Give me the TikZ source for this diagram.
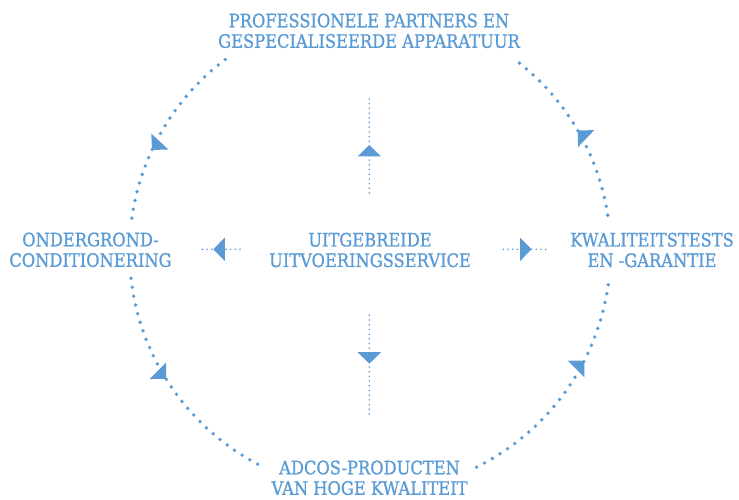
\documentclass[tikz,border=0pt]{standalone}
\usepackage{fontspec}
\setmainfont{DejaVu Serif}[FakeStretch=0.88, FakeBold=1]
\usetikzlibrary{calc,decorations.markings}
\definecolor{adblue}{RGB}{91,155,213}
\tikzset{
	labeltext/.style={text=adblue, align=center, inner sep=0pt, font=\fontsize{18.5}{20.5}\selectfont},
	ring/.style={adblue, line width=3.8pt, line cap=round, dash pattern=on 0pt off 9pt},
	spoke/.style={adblue, line width=1.8pt, line cap=round, dash pattern=on 0pt off 4.7pt},
	headat/.style 2 args={postaction={decorate, decoration={markings, mark=at position #1 with {\fill[adblue, rotate=#2] (0pt,0pt) -- (-11.5pt,11.75pt) -- (-11.5pt,-11.75pt) -- cycle;}}}}
}
\begin{document}
\begin{tikzpicture}[x=1pt, y=1pt]
	% Cycle
	\def\rad{240.5}
	\useasboundingbox (0,0) rectangle (739,499);
	\coordinate (mid) at (370,247.5);

	\node[labeltext] (partners) at (369,468.2) {PROFESSIONELE PARTNERS EN\\GESPECIALISEERDE APPARATUUR};
	\node[labeltext] (ground) at (90.5,249.2) {ONDERGROND-\\CONDITIONERING};
	\node[labeltext] (service) at (370,249) {UITGEBREIDE\\UITVOERINGSSERVICE};
	\node[labeltext] (tests) at (652,249) {KWALITEITSTESTS\\EN -GARANTIE};
	\node[labeltext] (products) at (369.5,21.2) {ADCOS-PRODUCTEN\\VAN HOGE KWALITEIT};

	\draw[ring, headat={0.60}{-18}] ($(mid)+(127:\rad pt)$) coordinate (ringa) arc[start angle=127, end angle=173.7, radius=\rad pt];
	\draw[ring, headat={0.456}{13}] ($(mid)+(186.4:\rad pt)$) coordinate (ringb) arc[start angle=186.4, end angle=242.5, radius=\rad pt];
	\draw[ring, headat={0.64}{-18}] ($(mid)+(296.3:\rad pt)$) coordinate (ringc) arc[start angle=296.3, end angle=353.6, radius=\rad pt];
	\draw[ring, headat={0.485}{16}] ($(mid)+(8.7:\rad pt)$) coordinate (ringd) arc[start angle=8.7, end angle=53, radius=\rad pt];

	% Spokes
	\coordinate (upin) at (369.3,306);
	\coordinate (upout) at (369.3,404);
	\coordinate (downin) at (369.3,183.7);
	\coordinate (downout) at (369.3,85);
	\coordinate (leftin) at (240,249.7);
	\coordinate (leftout) at (198.3,249.7);
	\coordinate (rightin) at (503.3,249.7);
	\coordinate (rightout) at (546.7,249.7);
	\draw[spoke, headat={0.49}{0}] (upin) -- (upout);
	\draw[spoke, headat={0.49}{0}] (downin) -- (downout);
	\draw[spoke, headat={0.64}{0}] (leftin) -- (leftout);
	\draw[spoke, headat={0.65}{0}] (rightin) -- (rightout);
\end{tikzpicture}
\end{document}
